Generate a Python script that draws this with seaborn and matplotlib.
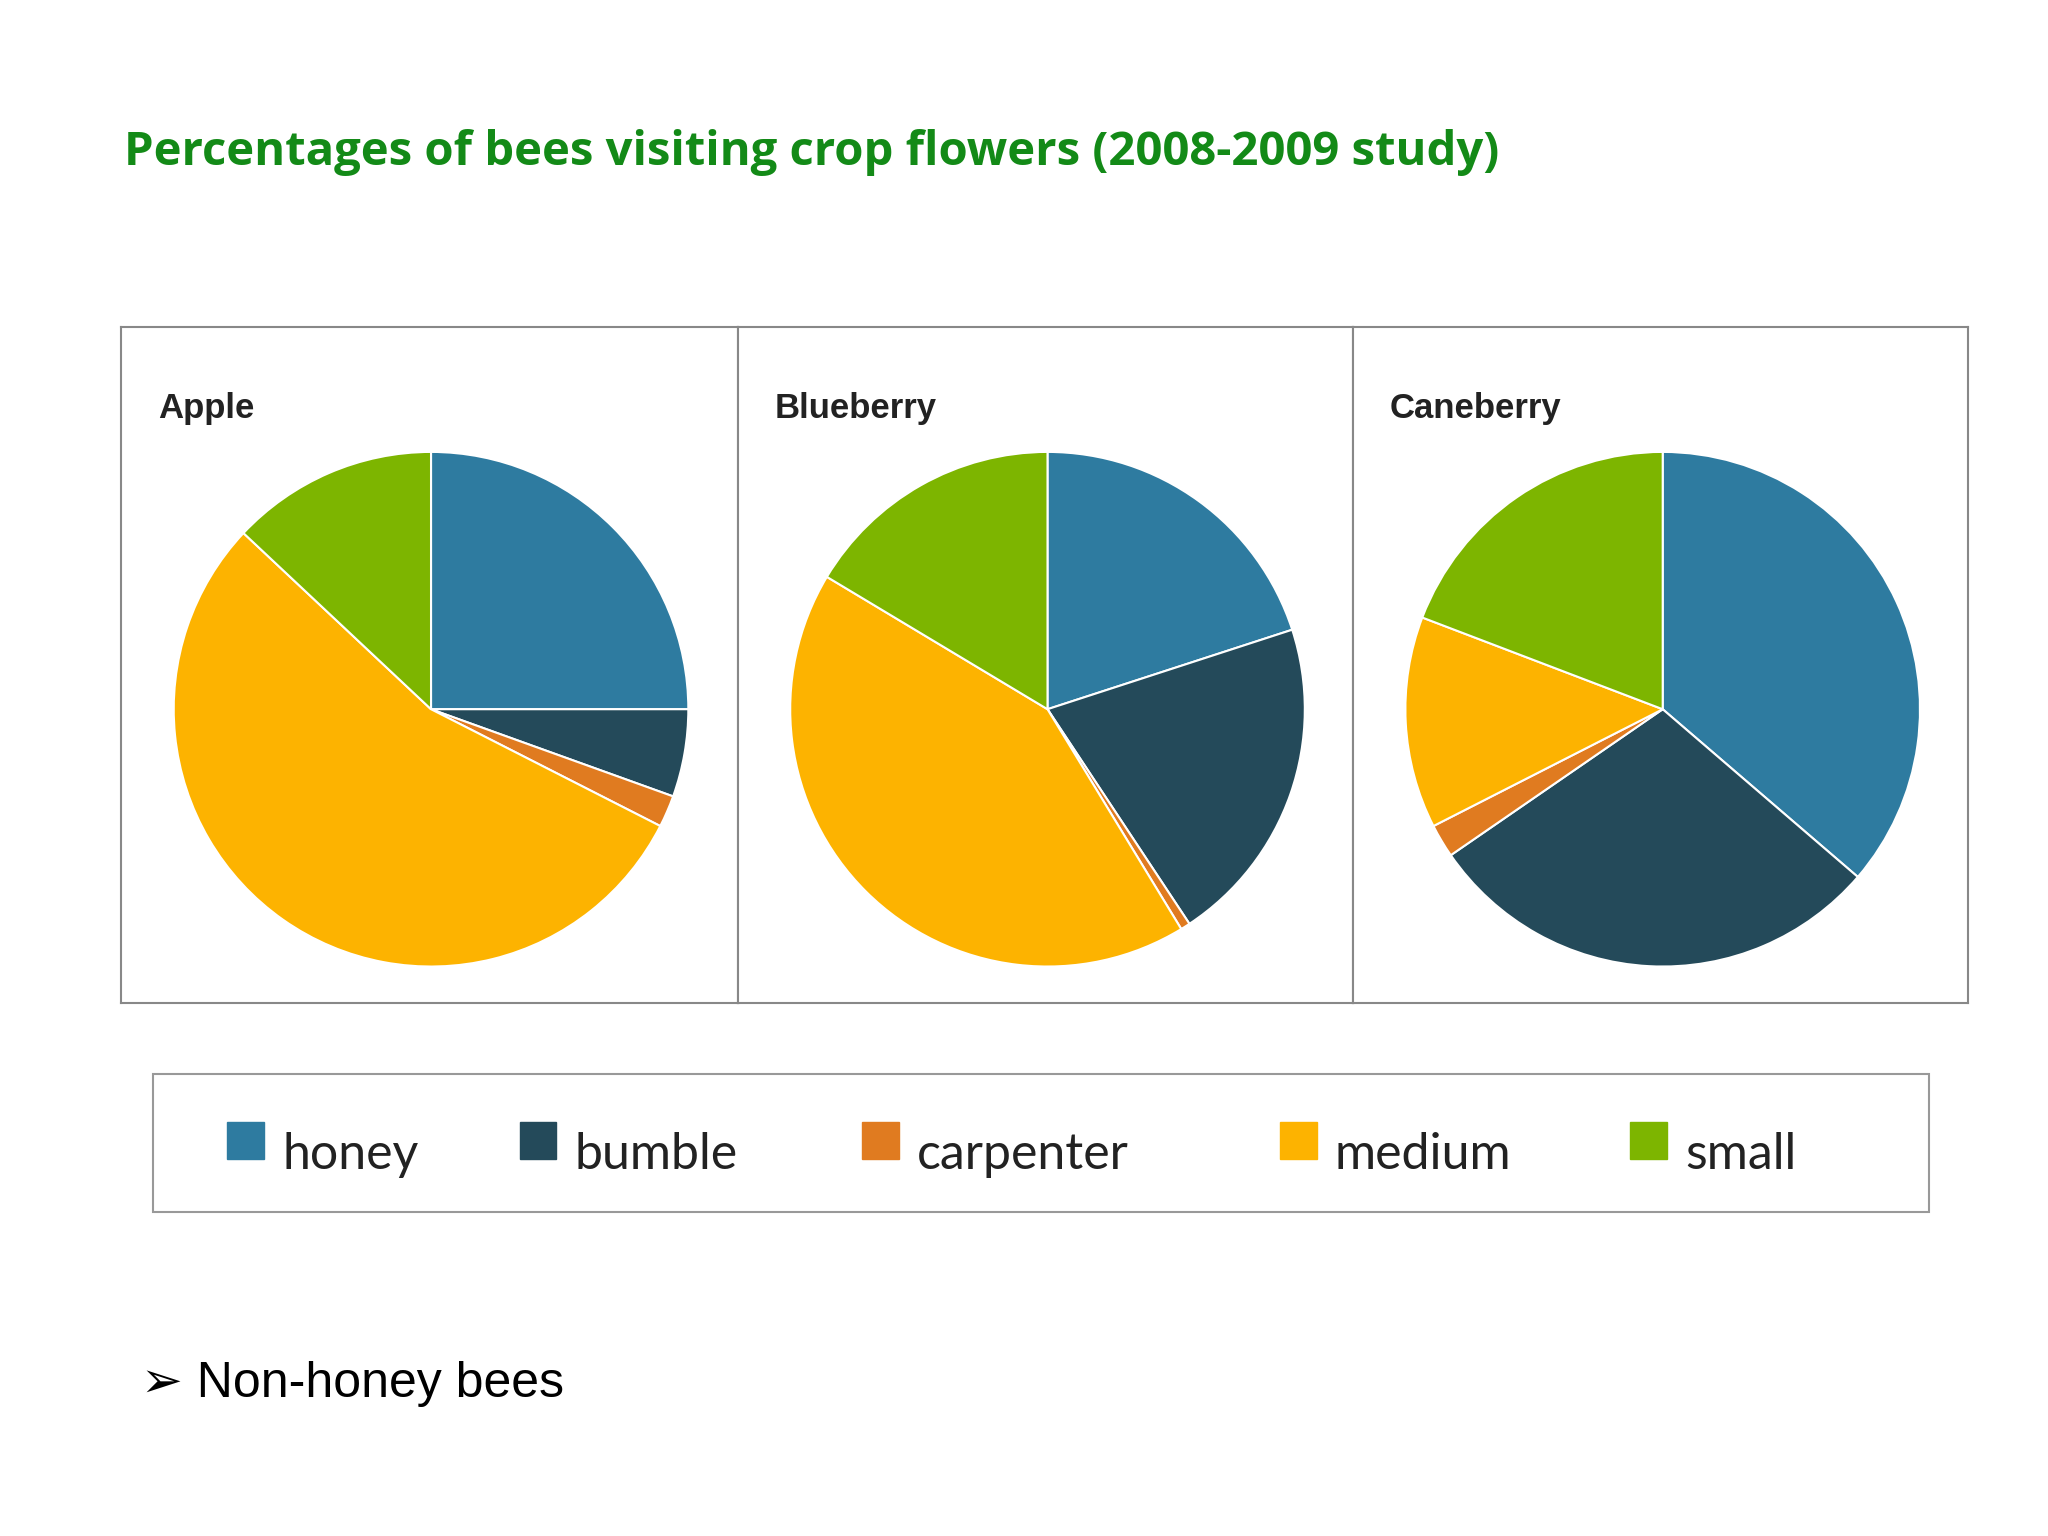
import matplotlib
matplotlib.use("Agg")
import matplotlib.pyplot as plt
import seaborn as sns
from matplotlib.patches import Rectangle

sns.set_theme(style="white")
plt.rcParams['font.family'] = ['DejaVu Sans']

crops = ["Apple", "Blueberry", "Caneberry"]
bee_types = ["honey", "bumble", "carpenter", "medium", "small"]
apple = [25.0, 5.5, 2.0, 54.5, 13.0]
blueberry = [20.0, 20.7, 0.6, 42.3, 16.4]
caneberry = [36.3, 29.1, 2.1, 13.3, 19.2]
colors = sns.color_palette(["#2E7BA0", "#244A5A", "#E07B20", "#FDB300", "#7DB500"])

W, H = 1568, 1176
fig = plt.figure(figsize=(20.48, 15.36), dpi=100)

def fx(x): return x / W
def fy(y): return 1 - y / H

fig.text(fx(95), fy(117), "Percentages of bees visiting crop flowers (2008-2009 study)",
         color="#138A17", fontsize=34, fontweight="bold", family="Open Sans", va="center")

edges = [93, 565, 1036, 1507]
for i, (name, vals) in enumerate(zip(crops, [apple, blueberry, caneberry])):
    x0, x1 = edges[i], edges[i + 1]
    ax = fig.add_axes([fx(x0), fy(768), fx(x1 - x0), (768 - 250) / H])
    pw, ph = x1 - x0, 518
    ax.pie(vals, colors=colors, startangle=90, counterclock=False,
           center=(237, 225), radius=197, frame=True,
           wedgeprops=dict(edgecolor="white", linewidth=1.5))
    ax.set_xlim(0, pw)
    ax.set_ylim(0, ph)
    ax.set_xticks([]); ax.set_yticks([])
    for s in ax.spines.values():
        s.set_edgecolor("#888888"); s.set_linewidth(1.5)
    ax.text(28, 455, name, fontsize=25, fontweight="bold", color="#222222",
            family="Liberation Sans", va="center")

# legend box
fig.patches.append(Rectangle((fx(117), fy(928)), fx(1477 - 117), (928 - 822) / H,
                             transform=fig.transFigure, fill=False,
                             edgecolor="#999999", linewidth=1.5))
leg_x = [174, 398, 660, 980, 1248]
for x, lab, c in zip(leg_x, bee_types, colors):
    fig.patches.append(Rectangle((fx(x), fy(887)), fx(28), 28 / H,
                                 transform=fig.transFigure, color=c))
    fig.text(fx(x + 42), fy(884), lab, fontsize=36, family="Lato",
             color="#222222", va="center")

fig.text(fx(108), fy(1060), "➢ Non-honey bees", fontsize=36,
         family=["Liberation Sans", "DejaVu Sans"], color="black", va="center")

fig.savefig("out.png", dpi=100, facecolor="white")
